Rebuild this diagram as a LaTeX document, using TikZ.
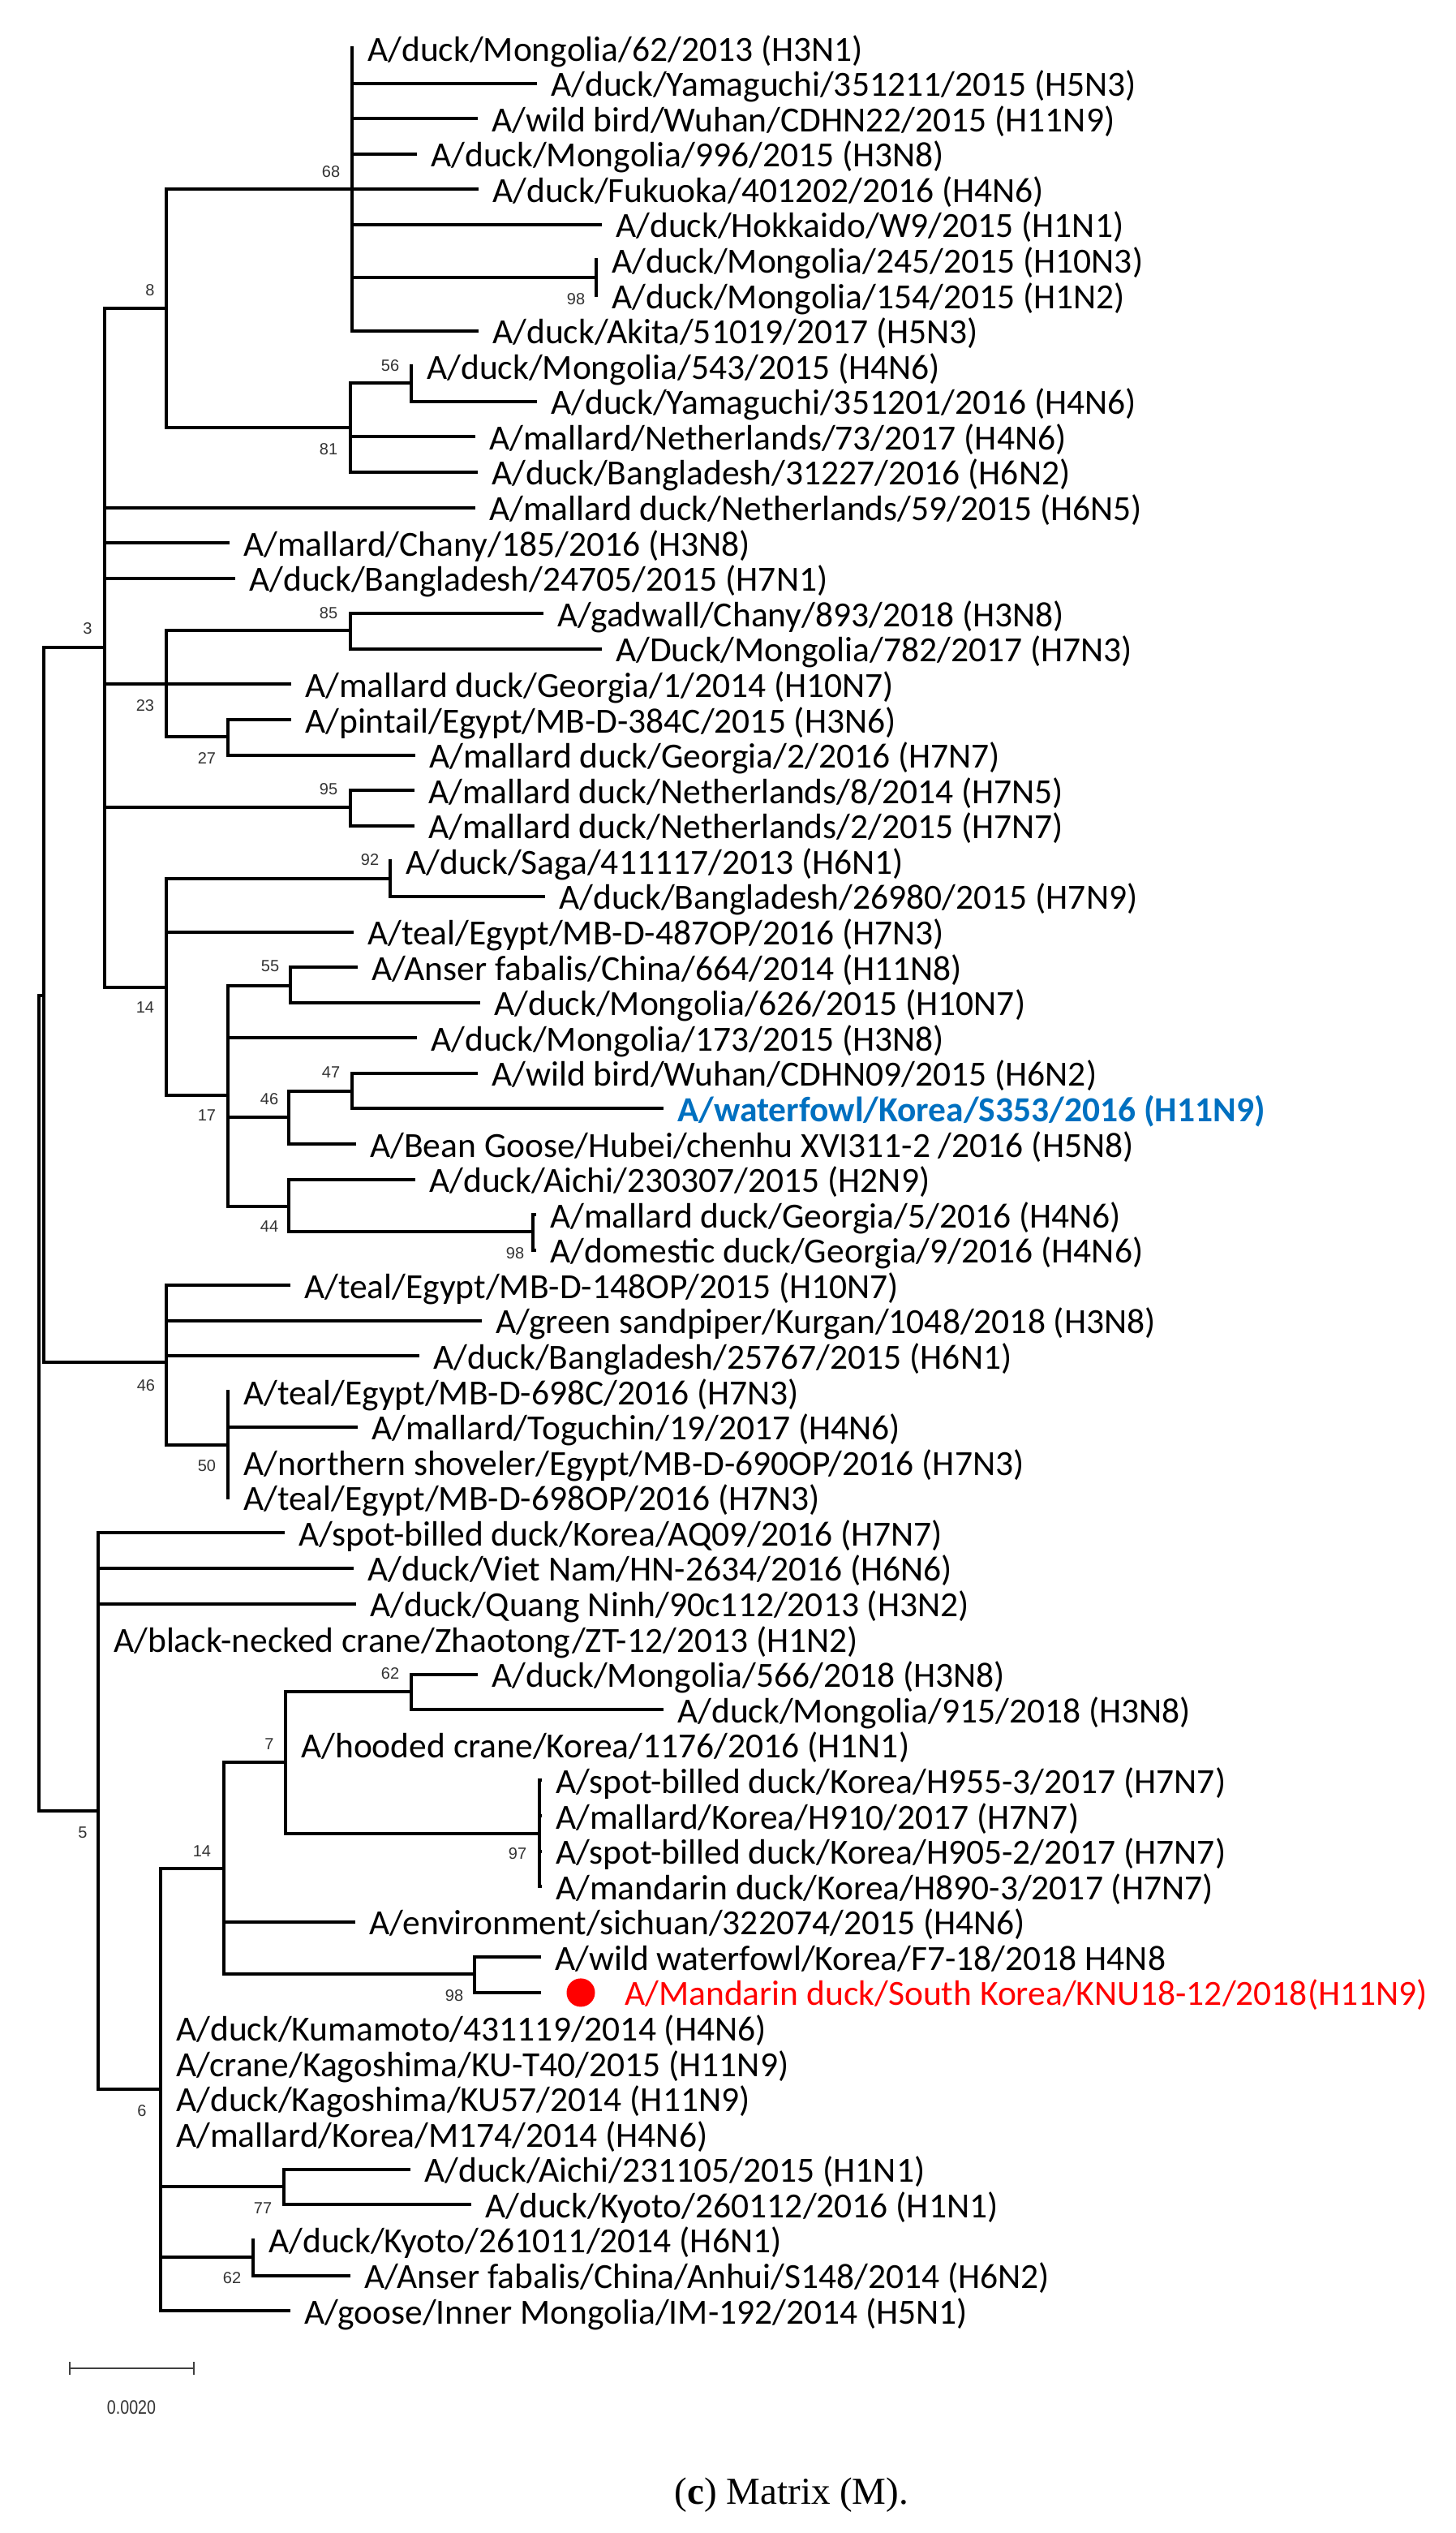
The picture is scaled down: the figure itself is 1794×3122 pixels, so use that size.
\documentclass[tikz,border=0pt]{standalone}
\usepackage{fontspec}
\setmainfont{Carlito}
\newfontfamily\bsfont{Liberation Sans}
\newfontfamily\capfont{Liberation Serif}
\usetikzlibrary{arrows.meta}
\definecolor{wfblue}{RGB}{0,112,192}
\definecolor{kred}{RGB}{255,0,0}
\newcommand\mytip[5][]{%
  \coordinate (#2) at (#3,{59+43.58*(#4-1)});
  \path (#2) ++(19,16) node[tiptext,#1] (#2t) {#5};
}
\newcommand\mybr[2]{\draw[brline] (#1) |- (#2);}
\begin{document}
\begin{tikzpicture}[x=1pt,y=-1pt,
  brline/.style={line width=4pt, line cap=rect, line join=miter},
  tiptext/.style={anchor=base west, inner sep=0pt, font=\fontsize{43.5}{44}\selectfont},
  boot/.style={inner sep=0pt, font=\bsfont\fontsize{20}{20}\selectfont, text=black!80},
]
\useasboundingbox (0,0) rectangle (1794,3122);

% internal nodes
\coordinate (R) at (48,1227);
\coordinate (nA) at (54,1227);
\coordinate (n3) at (129,798);
\coordinate (n8) at (205,380);
\coordinate (n68) at (434,233);
\coordinate (n98a) at (735,342);
\coordinate (n81) at (432,527);
\coordinate (n56) at (507,472);
\coordinate (n23) at (205,843);
\coordinate (n85) at (432,777);
\coordinate (n27) at (281,908);
\coordinate (n95) at (432,995);
\coordinate (n14) at (205,1217);
\coordinate (n92) at (481,1083);
\coordinate (n17) at (281,1350);
\coordinate (n55) at (358,1215);
\coordinate (n46) at (356,1377);
\coordinate (n47) at (434,1345);
\coordinate (n44) at (356,1487);
\coordinate (n98b) at (657,1518);
\coordinate (n46b) at (205,1679);
\coordinate (n50) at (281,1781);
\coordinate (n5) at (121,2232);
\coordinate (n6) at (198,2575);
\coordinate (n14b) at (276,2303);
\coordinate (n7) at (352,2172);
\coordinate (n62) at (507,2085);
\coordinate (n97) at (665,2260);
\coordinate (n98c) at (585,2433);
\coordinate (n77) at (350,2695);
\coordinate (n62b) at (312,2782);

% tips
\mytip{e1}{434}{1}{A/duck/Mongolia/62/2013 (H3N1)}
\mytip{e2}{660}{2}{A/duck/Yamaguchi/351211/2015 (H5N3)}
\mytip{e3}{587}{3}{A/wild bird/Wuhan/CDHN22/2015 (H11N9)}
\mytip{e4}{512}{4}{A/duck/Mongolia/996/2015 (H3N8)}
\mytip{e5}{588}{5}{A/duck/Fukuoka/401202/2016 (H4N6)}
\mytip{e6}{740}{6}{A/duck/Hokkaido/W9/2015 (H1N1)}
\mytip{e7}{735}{7}{A/duck/Mongolia/245/2015 (H10N3)}
\mytip{e8}{735}{8}{A/duck/Mongolia/154/2015 (H1N2)}
\mytip{e9}{588}{9}{A/duck/Akita/51019/2017 (H5N3)}
\mytip{e10}{507}{10}{A/duck/Mongolia/543/2015 (H4N6)}
\mytip{e11}{660}{11}{A/duck/Yamaguchi/351201/2016 (H4N6)}
\mytip{e12}{584}{12}{A/mallard/Netherlands/73/2017 (H4N6)}
\mytip{e13}{587}{13}{A/duck/Bangladesh/31227/2016 (H6N2)}
\mytip{e14}{584}{14}{A/mallard duck/Netherlands/59/2015 (H6N5)}
\mytip{e15}{281}{15}{A/mallard/Chany/185/2016 (H3N8)}
\mytip{e16}{288}{16}{A/duck/Bangladesh/24705/2015 (H7N1)}
\mytip{e17}{668}{17}{A/gadwall/Chany/893/2018 (H3N8)}
\mytip{e18}{740}{18}{A/Duck/Mongolia/782/2017 (H7N3)}
\mytip{e19}{357}{19}{A/mallard duck/Georgia/1/2014 (H10N7)}
\mytip{e20}{357}{20}{A/pintail/Egypt/MB-D-384C/2015 (H3N6)}
\mytip{e21}{510}{21}{A/mallard duck/Georgia/2/2016 (H7N7)}
\mytip{e22}{509}{22}{A/mallard duck/Netherlands/8/2014 (H7N5)}
\mytip{e23}{509}{23}{A/mallard duck/Netherlands/2/2015 (H7N7)}
\mytip{e24}{481}{24}{A/duck/Saga/411117/2013 (H6N1)}
\mytip{e25}{670}{25}{A/duck/Bangladesh/26980/2015 (H7N9)}
\mytip{e26}{434}{26}{A/teal/Egypt/MB-D-487OP/2016 (H7N3)}
\mytip{e27}{439}{27}{A/Anser fabalis/China/664/2014 (H11N8)}
\mytip{e28}{590}{28}{A/duck/Mongolia/626/2015 (H10N7)}
\mytip{e29}{512}{29}{A/duck/Mongolia/173/2015 (H3N8)}
\mytip{e30}{587}{30}{A/wild bird/Wuhan/CDHN09/2015 (H6N2)}
\mytip[text=wfblue]{e31}{816}{31}{\bfseries A/waterfowl/Korea/S353/2016 (H11N9)}
\mytip{e32}{437}{32}{A/Bean Goose/Hubei/chenhu XVI311-2 /2016 (H5N8)}
\mytip{e33}{510}{33}{A/duck/Aichi/230307/2015 (H2N9)}
\mytip{e34}{659}{34}{A/mallard duck/Georgia/5/2016 (H4N6)}
\mytip{e35}{659}{35}{A/domestic duck/Georgia/9/2016 (H4N6)}
\mytip{e36}{356}{36}{A/teal/Egypt/MB-D-148OP/2015 (H10N7)}
\mytip{e37}{592}{37}{A/green sandpiper/Kurgan/1048/2018 (H3N8)}
\mytip{e38}{515}{38}{A/duck/Bangladesh/25767/2015 (H6N1)}
\mytip{e39}{281}{39}{A/teal/Egypt/MB-D-698C/2016 (H7N3)}
\mytip{e40}{439}{40}{A/mallard/Toguchin/19/2017 (H4N6)}
\mytip{e41}{281}{41}{A/northern shoveler/Egypt/MB-D-690OP/2016 (H7N3)}
\mytip{e42}{281}{42}{A/teal/Egypt/MB-D-698OP/2016 (H7N3)}
\mytip{e43}{349}{43}{A/spot-billed duck/Korea/AQ09/2016 (H7N7)}
\mytip{e44}{434}{44}{A/duck/Viet Nam/HN-2634/2016 (H6N6)}
\mytip{e45}{437}{45}{A/duck/Quang Ninh/90c112/2013 (H3N2)}
\mytip{e46}{121}{46}{A/black-necked crane/Zhaotong/ZT-12/2013 (H1N2)}
\mytip{e47}{587}{47}{A/duck/Mongolia/566/2018 (H3N8)}
\mytip{e48}{816}{48}{A/duck/Mongolia/915/2018 (H3N8)}
\mytip{e49}{352}{49}{A/hooded crane/Korea/1176/2016 (H1N1)}
\mytip{e50}{666}{50}{A/spot-billed duck/Korea/H955-3/2017 (H7N7)}
\mytip{e51}{666}{51}{A/mallard/Korea/H910/2017 (H7N7)}
\mytip{e52}{666}{52}{A/spot-billed duck/Korea/H905-2/2017 (H7N7)}
\mytip{e53}{666}{53}{A/mandarin duck/Korea/H890-3/2017 (H7N7)}
\mytip{e54}{436}{54}{A/environment/sichuan/322074/2015 (H4N6)}
\mytip{e55}{665}{55}{A/wild waterfowl/Korea/F7-18/2018 H4N8}
\coordinate (e56) at (665,{59+43.58*55});
\path (e56) ++(51,0) node[circle, fill=kred, minimum size=35pt, inner sep=0pt] (dot56) {};
\path (e56) ++(105,16) node[tiptext, text=kred] (e56t) {A/Mandarin duck/South Korea/KNU18-12/2018(H11N9)};
\mytip{e57}{198}{57}{A/duck/Kumamoto/431119/2014 (H4N6)}
\mytip{e58}{198}{58}{A/crane/Kagoshima/KU-T40/2015 (H11N9)}
\mytip{e59}{198}{59}{A/duck/Kagoshima/KU57/2014 (H11N9)}
\mytip{e60}{198}{60}{A/mallard/Korea/M174/2014 (H4N6)}
\mytip{e61}{504}{61}{A/duck/Aichi/231105/2015 (H1N1)}
\mytip{e62}{579}{62}{A/duck/Kyoto/260112/2016 (H1N1)}
\mytip{e63}{312}{63}{A/duck/Kyoto/261011/2014 (H6N1)}
\mytip{e64}{430}{64}{A/Anser fabalis/China/Anhui/S148/2014 (H6N2)}
\mytip{e65}{356}{65}{A/goose/Inner Mongolia/IM-192/2014 (H5N1)}

% branches
\mybr{R}{nA}
\mybr{R}{n5}
\mybr{nA}{n3}
\mybr{nA}{n46b}
\mybr{n3}{n8}
\mybr{n3}{e14}
\mybr{n3}{e15}
\mybr{n3}{e16}
\mybr{n3}{n23}
\mybr{n3}{n95}
\mybr{n3}{n14}
\mybr{n8}{n68}
\mybr{n8}{n81}
\foreach \t in {e1,e2,e3,e4,e5,e6,e9,n98a}{\mybr{n68}{\t}}
\mybr{n98a}{e7}
\mybr{n98a}{e8}
\mybr{n81}{n56}
\mybr{n81}{e12}
\mybr{n81}{e13}
\mybr{n56}{e10}
\mybr{n56}{e11}
\mybr{n23}{n85}
\mybr{n23}{e19}
\mybr{n23}{n27}
\mybr{n85}{e17}
\mybr{n85}{e18}
\mybr{n27}{e20}
\mybr{n27}{e21}
\mybr{n95}{e22}
\mybr{n95}{e23}
\mybr{n14}{n92}
\mybr{n14}{e26}
\mybr{n14}{n17}
\mybr{n92}{e24}
\mybr{n92}{e25}
\mybr{n17}{n55}
\mybr{n17}{e29}
\mybr{n17}{n46}
\mybr{n17}{n44}
\mybr{n55}{e27}
\mybr{n55}{e28}
\mybr{n46}{n47}
\mybr{n46}{e32}
\mybr{n47}{e30}
\mybr{n47}{e31}
\mybr{n44}{e33}
\mybr{n44}{n98b}
\mybr{n98b}{e34}
\mybr{n98b}{e35}
\mybr{n46b}{e36}
\mybr{n46b}{e37}
\mybr{n46b}{e38}
\mybr{n46b}{n50}
\foreach \t in {e39,e40,e41,e42}{\mybr{n50}{\t}}
\foreach \t in {e43,e44,e45,e46,n6}{\mybr{n5}{\t}}
\foreach \t in {n14b,e57,e58,e59,e60,n77,n62b,e65}{\mybr{n6}{\t}}
\mybr{n14b}{n7}
\mybr{n14b}{e54}
\mybr{n14b}{n98c}
\mybr{n7}{n62}
\mybr{n7}{e49}
\mybr{n7}{n97}
\mybr{n62}{e47}
\mybr{n62}{e48}
\foreach \t in {e50,e51,e52,e53}{\mybr{n97}{\t}}
\mybr{n98c}{e55}
\mybr{n98c}{e56}
\mybr{n77}{e61}
\mybr{n77}{e62}
\mybr{n62b}{e63}
\mybr{n62b}{e64}

% bootstrap values
\node[boot] (b68) at (408,212) {68};
\node[boot] (b98a) at (710,369) {98};
\node[boot] (b8) at (185,358) {8};
\node[boot] (b56) at (481,451) {56};
\node[boot] (b81) at (405,554) {81};
\node[boot] (b3) at (108,775) {3};
\node[boot] (b85) at (405,756) {85};
\node[boot] (b23) at (179,870) {23};
\node[boot] (b27) at (255,935) {27};
\node[boot] (b95) at (405,973) {95};
\node[boot] (b92) at (456,1060) {92};
\node[boot] (b14) at (179,1242) {14};
\node[boot] (b55) at (333,1191) {55};
\node[boot] (b17) at (255,1375) {17};
\node[boot] (b46) at (332,1355) {46};
\node[boot] (b47) at (408,1322) {47};
\node[boot] (b44) at (332,1512) {44};
\node[boot] (b98b) at (635,1545) {98};
\node[boot] (b46b) at (180,1708) {46};
\node[boot] (b50) at (255,1807) {50};
\node[boot] (b5) at (102,2259) {5};
\node[boot] (b6) at (175,2602) {6};
\node[boot] (b14b) at (249,2282) {14};
\node[boot] (b7) at (332,2150) {7};
\node[boot] (b62) at (481,2063) {62};
\node[boot] (b97) at (638,2285) {97};
\node[boot] (b98c) at (560,2460) {98};
\node[boot] (b77) at (324,2722) {77};
\node[boot] (b62b) at (286,2808) {62};

% scale bar
\coordinate (sbL) at (85,2919);
\coordinate (sbR) at (240,2919);
\draw[line width=2pt, black!75, {Bar[width=16pt]}-{Bar[width=16pt]}] (sbL) -- (sbR);
\node[boot, font=\bsfont\fontsize{24}{24}\selectfont, xscale=0.82] (sblab) at (162,2967) {0.0020};

% caption
\node[inner sep=0pt, font=\capfont\fontsize{47}{48}\selectfont] (cap) at (976,3075) {(\textbf{c}) Matrix (M).};
\end{tikzpicture}
\end{document}
